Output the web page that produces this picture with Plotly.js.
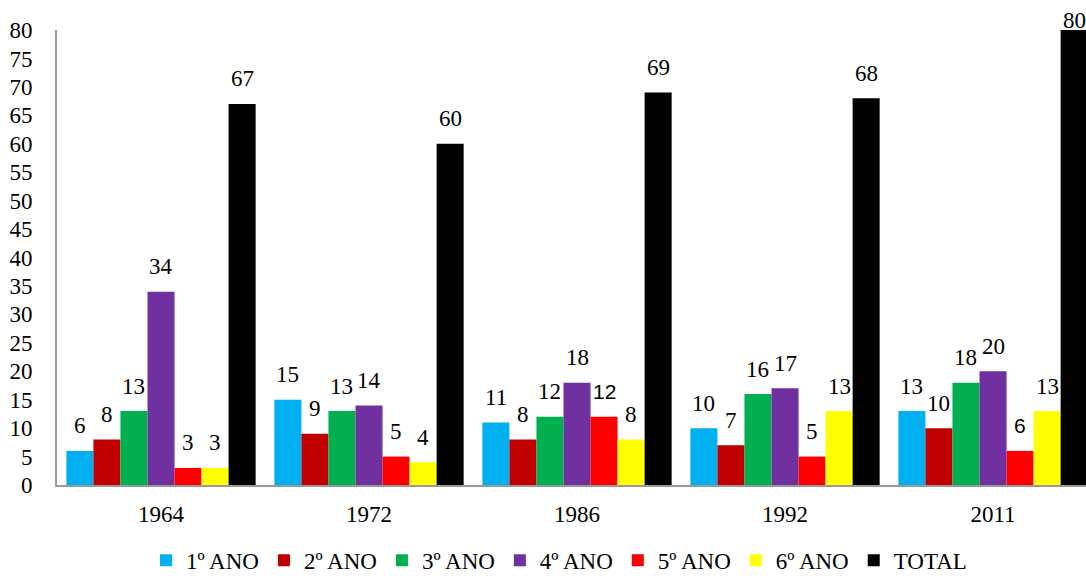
<!DOCTYPE html>
<html>
<head>
<meta charset="utf-8">
<script src="https://cdn.plot.ly/plotly-3.0.1.min.js"></script>
<style>html,body{margin:0;padding:0;background:#fff;}#chart{width:1086px;height:576px;}</style>
</head>
<body>
<div id="chart"></div>
<script>
const categories = ['1964', '1972', '1986', '1992', '2011'];
const seriesNames = ['1º ANO', '2º ANO', '3º ANO', '4º ANO', '5º ANO', '6º ANO', 'TOTAL'];
const ano1 = [6, 15, 11, 10, 13];
const ano2 = [8, 9, 8, 7, 10];
const ano3 = [13, 13, 12, 16, 18];
const ano4 = [34, 14, 18, 17, 20];
const ano5 = [3, 5, 12, 5, 6];
const ano6 = [3, 4, 8, 13, 13];
const total = [67, 60, 69, 68, 80];
const seriesValues = [ano1, ano2, ano3, ano4, ano5, ano6, total];
const colors = ['#00B0F0', '#C00000', '#00B050', '#7030A0', '#FF0000', '#FFFF00', '#000000'];

const FONT = '"Times New Roman", "Liberation Serif", Times, serif';
const SANS = '"Liberation Sans", Arial, sans-serif';
const bargap = 0.09;
const nS = seriesValues.length;
const bw = (1 - bargap) / nS;

const traces = seriesValues.map((vals, j) => ({
  type: 'bar',
  name: seriesNames[j],
  x: categories,
  y: vals,
  marker: {color: colors[j], line: {width: 0}},
  hoverinfo: 'x+y+name'
}));

const annotations = [];
seriesValues.forEach((vals, j) => {
  vals.forEach((v, i) => {
    const atTop = v >= 80;
    // two labels in the original are drawn in a sans face (5º ANO of 1986 and 2011)
    const sans = (j === 4 && (i === 2 || i === 4));
    annotations.push({
      xref: 'x', yref: 'y',
      x: i + bw * (j - (nS - 1) / 2),
      y: v,
      text: String(v),
      showarrow: false,
      xanchor: 'center', yanchor: 'middle',
      yshift: atTop ? 10 : 25,
      font: sans ? {family: SANS, size: 21, color: '#000'} : {family: FONT, size: 23, color: '#000'}
    });
  });
});

const layout = {
  width: 1086, height: 576,
  paper_bgcolor: '#fff', plot_bgcolor: '#fff',
  margin: {l: 57, r: 0, t: 30, b: 91, pad: 0, autoexpand: false},
  barmode: 'group',
  bargap: bargap,
  bargroupgap: 0,
  showlegend: true,
  font: {family: FONT, size: 23, color: '#000'},
  xaxis: {
    type: 'category',
    range: [-0.5, 4.447],
    showline: true, linecolor: '#999999', linewidth: 2,
    ticks: '', showgrid: false, zeroline: false,
    tickfont: {family: FONT, size: 23, color: '#000'},
    ticklabelstandoff: 7
  },
  yaxis: {
    range: [0, 80], dtick: 5, tick0: 0,
    showline: true, linecolor: '#999999', linewidth: 2,
    ticks: '', showgrid: false, zeroline: false,
    tickfont: {family: FONT, size: 23, color: '#000'},
    ticklabelstandoff: 18
  },
  legend: {
    orientation: 'h',
    x: 0.0865, xanchor: 'left',
    y: -0.118, yanchor: 'top',
    font: {family: FONT, size: 23, color: '#000'},
    bgcolor: 'rgba(0,0,0,0)',
    traceorder: 'normal'
  },
  annotations: annotations
};

Plotly.newPlot('chart', traces, layout, {displayModeBar: false, staticPlot: true});
</script>
</body>
</html>
